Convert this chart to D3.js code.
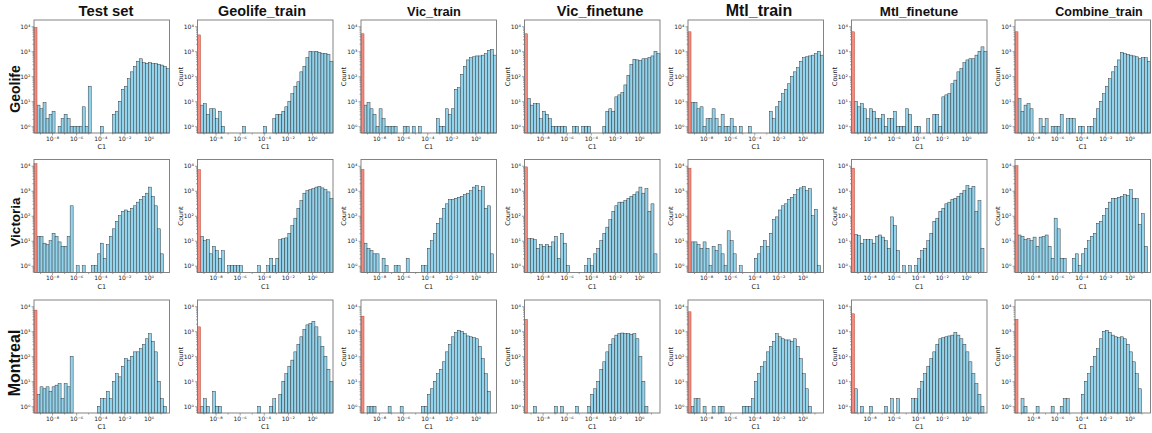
<!DOCTYPE html>
<html>
<head>
<meta charset="utf-8">
<script src="https://cdn.jsdelivr.net/npm/d3@7"></script>
<style>
    body { margin: 0; background: #fff; }
    text { font-family: "DejaVu Sans", sans-serif; fill: #222; }
    .title, .row-label { font-family: "Liberation Sans", Arial, sans-serif; font-weight: bold; fill: #111; }
</style>
</head>
<body>
<svg id="chart"></svg>
<script>
// column titles (models) and row labels (datasets)
const columns = ['Test set', 'Geolife_train', 'Vic_train', 'Vic_finetune', 'Mtl_train', 'Mtl_finetune', 'Combine_train'];
const rows = ['Geolife', 'Victoria', 'Montreal'];

// histogram bins in log10(C1): 45 bins of 0.25 decade, first bin holds the zero values (red)
const binStartLog = -9.5;
const binStepLog = 0.25;
const binCount = 45;
const xTicks = [1e-8, 1e-6, 1e-4, 1e-2, 1e0];
const yTicks = [1e0, 1e1, 1e2, 1e3, 1e4];

// counts in the first (zero) bin, row by row
const zeroCounts = [
    9000, 4500, 5000, 5000, 6000, 6000, 6000,
    12000, 7000, 7000, 9000, 8000, 8000, 10000,
    7000, 1500, 4000, 3000, 6000, 5000, 3000
];

// counts of bins 1..44, one array per panel
const geolifeTest = [7,5,9,2,3,4, 0,1,2,3,2,1,1,1,1,6,1,40, 0,0,0,1,0,0,0, 3,4,10,30,40,80,150,250,400,500,350,330,350,320,320,300,280,250,200];
const geolifeGeolifeTrain = [7,8,3,5,5,2,4,1, 0,0,0,0,0,0, 1, 0,0,0,0,0,0, 1, 0,0, 2,3,3,4,6,10,20,40,60,150,250,550,1000,950,1000,900,800,800,750,400];
const geolifeVicTrain = [7,9,5,3,1,5,2,1,1,1,1, 0,0, 1,1,0,1,0,1, 0,0,0,0,0, 2,1,1,5,3,5,30,35,120,250,450,550,600,650,650,700,800,1100,1200,700];
const geolifeVicFinetune = [13,7,8,8,2,4,3,2, 1,1,1,1,1, 0,0, 1,1, 0, 1,1,1, 0,0,0,0, 1,4,5,4,15,18,22,45,110,300,480,450,420,500,500,550,650,1000,800];
const geolifeMtlTrain = [9,9,5,6,1,2,2,5,2,1,3,1,1,2,1, 0,1,0,0,1, 0,0,0,0,0,0, 4,2,6,10,20,30,50,100,150,220,400,550,600,650,700,800,1000,700];
const geolifeMtlFinetune = [10,6,8,5,2,5,4,2,2,3,1,2,2,4,1,1,1,5,3, 0,1,1, 0,0,2,0, 3,3,1, 15,18,20,50,70,150,200,350,450,500,500,700,1000,1500,1000];
const geolifeCombineTrain = [13,4,7,8,5, 0,0,2,1,2,0,1,1,1,3,0,2,2,2,0,1,1,0,1,1, 2,5,10,20,40,80,150,250,450,900,800,750,700,650,600,500,550,550,400];

const victoriaTest = [15,15,8,7,10,20,15,9,6,6,15, 250, 0,1,0,1, 0,0, 1,1,3,8,2,7,15,30,60,100,150,170,150,200,250,350,450,600,800,1400,600,250,30,3, 0,0];
const victoriaGeolifeTrain = [15,10,11,3,6,4,2,4, 0, 1,1,1,1,1, 0,0,0,0,0, 1, 0,0, 1, 2,1,2,11,12,13,20,40,80,200,400,800,1000,1100,1200,1400,1500,1300,1100,900,500];
const victoriaVicTrain = [8,5,4,3,3,0,2,1,0,0,1,1,0,0,2,0,0,0,0, 1,1,5,10,20,50,80,200,300,450,450,500,550,600,700,800,1000,1400,1600,1000,1500,200,250,3, 0];
const victoriaVicFinetune = [12,12,11,5,7,6,7,6,9,15,2,20,8,1, 0,0,0,0,0, 1,2,1,3,5,10,20,35,70,150,250,350,350,400,500,600,700,900,1400,800,1200,150,300,3, 0];
const victoriaMtlTrain = [9,9,7,5,9,5,1,6,4,7,3,1,25,10,3,0,1, 0,0,0,0, 2,3,6,10,6,20,70,90,170,250,300,450,550,700,1100,1300,1500,1000,1200,100,180,1, 0];
const victoriaMtlFinetune = [18,16,8,11,11,11,8,15,17,14,10,5,90,40,4, 0,1,0,1,0,1, 2,4,5,10,20,60,80,150,200,300,350,450,500,600,800,1000,1600,1200,1500,150,400,5, 0];
const victoriaCombineTrain = [17,15,11,12,10,14,6,14,15,17,6,2,80,30,2,2,0,0, 2,3,1,3,5,10,15,20,50,60,100,200,350,500,500,550,600,700,650,1100,500,500,45,120,6, 0];

const montrealTest = [3,6,5,6,4,6,7,8,2,8,6, 100, 0,0,0,0,0,0,0,0, 1,2,2,4,2,10,20,15,40,80,70,100,150,150,200,300,500,800,400,150,10,2,1, 0];
const montrealGeolifeTrain = [1,2,1,0,4,1,1, 0,0,0,0,0,0,0,0,0,0,0,0, 1, 0,0,0, 1,2,0, 3,10,20,40,70,150,300,600,1200,1800,2000,2500,1500,600,250,100,30,10];
const montrealVicTrain = [0,1,1,1,0,0,0,0,1,0,0,0,1, 0,0,0,0,0,0, 1,1,3,5,10,20,30,60,150,300,600,900,1100,1000,800,650,600,550,500,250,80,20,4, 0,0];
const montrealVicFinetune = [0,0,1,0,0,0,0,0,0,1,0,1,0,0,0,0,1,0,0,0, 1,3,5,10,30,60,150,300,500,700,800,850,800,800,750,800,500,100,10,1, 0,0,0,0];
const montrealMtlTrain = [1,2,2,0,1,0,0,1,0,1,1,0,0,0,0,0,0, 1,1,1,2,10,20,40,60,150,250,400,800,600,500,450,450,400,500,250,80,20,5,1, 0,0,0,0];
const montrealMtlFinetune = [5,0,1,0,0,1,0,0,0,0,1,0,2,0,2,0,0,0,0, 2,2,5,10,20,40,80,150,300,500,550,600,650,700,900,700,500,300,150,60,20,8,3,1, 0];
const montrealCombineTrain = [0,2,1,0,0,0,1,0,0,0,0,1,0,0,1,2,2,0,0,0,0, 3,10,20,40,100,200,500,1000,1100,900,700,600,550,600,500,300,150,60,20,5, 0,0,0];

const panelCounts = [
    [geolifeTest, geolifeGeolifeTrain, geolifeVicTrain, geolifeVicFinetune, geolifeMtlTrain, geolifeMtlFinetune, geolifeCombineTrain],
    [victoriaTest, victoriaGeolifeTrain, victoriaVicTrain, victoriaVicFinetune, victoriaMtlTrain, victoriaMtlFinetune, victoriaCombineTrain],
    [montrealTest, montrealGeolifeTrain, montrealVicTrain, montrealVicFinetune, montrealMtlTrain, montrealMtlFinetune, montrealCombineTrain]
];

// layout
const width = 1152, height = 433;
const panelWidth = 135.5, panelHeight = 113;
const colLeft = d3.range(columns.length).map(i => 34 + i * 163.5);
const rowTop = [20, 159.5, 300];
const titleX = [106, 262, 434, 600, 759, 919, 1099];
const titleSize = [14.8, 14.4, 12.8, 14.6, 16, 13.3, 12.5];
const rowLabelY = [89, 222, 363];
const rowLabelSize = [14, 13.5, 16];

const svg = d3.select('#chart')
    .attr('width', width)
    .attr('height', height);

// scales shared by every panel
const binEdge = i => Math.pow(10, binStartLog + i * binStepLog);
const xScale = d3.scaleLog()
    .domain([binEdge(0), binEdge(binCount)])
    .range([0, panelWidth]);
const yScale = d3.scaleLog()
    .domain([Math.pow(10, -0.27), Math.pow(10, 4.25)])
    .range([panelHeight, 0]);

const supMap = {'-': '\u207B', '0': '\u2070', '1': '\u00B9', '2': '\u00B2', '3': '\u00B3', '4': '\u2074',
    '5': '\u2075', '6': '\u2076', '7': '\u2077', '8': '\u2078', '9': '\u2079'};
const powerFormat = v => '10' + String(Math.round(Math.log10(v))).split('').map(ch => supMap[ch]).join('');

const yMinor = [];
d3.range(-1, 5).forEach(k => d3.range(2, 10).forEach(m => {
    const v = m * Math.pow(10, k);
    if (v > yScale.domain()[0] && v < yScale.domain()[1]) yMinor.push(v);
}));
const xMinor = [1e-9, 1e-7, 1e-5, 1e-3, 1e-1, 1e1];

// titles
svg.selectAll('.title')
    .data(columns)
    .join('text')
    .attr('class', 'title')
    .attr('x', (d, i) => titleX[i])
    .attr('y', 16)
    .attr('text-anchor', 'middle')
    .style('font-size', (d, i) => titleSize[i] + 'px')
    .text(d => d);

svg.selectAll('.row-label')
    .data(rows)
    .join('text')
    .attr('class', 'row-label')
    .attr('transform', (d, i) => `translate(20, ${rowLabelY[i]}) rotate(-90)`)
    .attr('text-anchor', 'middle')
    .style('font-size', (d, i) => rowLabelSize[i] + 'px')
    .text(d => d);

rows.forEach((rowName, r) => {
    columns.forEach((colName, c) => {
        const g = svg.append('g')
            .attr('transform', `translate(${colLeft[c]}, ${rowTop[r]})`);

        const bins = panelCounts[r][c]
            .map((count, j) => ({ x0: binEdge(j + 1), x1: binEdge(j + 2), count }))
            .filter(d => d.count > 0);

        g.selectAll('rect.bin')
            .data(bins)
            .join('rect')
            .attr('class', 'bin')
            .attr('x', d => xScale(d.x0))
            .attr('y', d => yScale(d.count))
            .attr('width', d => xScale(d.x1) - xScale(d.x0))
            .attr('height', d => panelHeight - yScale(d.count))
            .attr('fill', '#93d3ec')
            .attr('stroke', '#2a2a2a')
            .attr('stroke-width', 0.45);

        // zero values bar
        const zero = zeroCounts[r * columns.length + c];
        g.append('rect')
            .attr('x', xScale(binEdge(0)))
            .attr('y', yScale(zero))
            .attr('width', xScale(binEdge(1)) - xScale(binEdge(0)))
            .attr('height', panelHeight - yScale(zero))
            .attr('fill', '#f58b7e')
            .attr('stroke', '#b0392e')
            .attr('stroke-width', 0.45);

        // axes
        const xAxis = d3.axisBottom(xScale).tickValues(xTicks).tickFormat(powerFormat)
            .tickSize(2.5).tickPadding(1.2);
        const xMinorAxis = d3.axisBottom(xScale).tickValues(xMinor).tickFormat('').tickSize(1.5);
        const yAxis = d3.axisLeft(yScale).tickValues(yTicks).tickFormat(powerFormat)
            .tickSize(2.5).tickPadding(1.2);
        const yMinorAxis = d3.axisLeft(yScale).tickValues(yMinor).tickFormat('').tickSize(1.5);

        [
            g.append('g').attr('transform', `translate(0, ${panelHeight})`).call(xAxis),
            g.append('g').attr('transform', `translate(0, ${panelHeight})`).call(xMinorAxis),
            g.append('g').call(yAxis),
            g.append('g').call(yMinorAxis)
        ].forEach(ax => {
            ax.select('.domain').remove();
            ax.selectAll('line').attr('stroke', '#444').attr('stroke-width', 0.5);
            ax.selectAll('text').style('font-size', '6px').attr('fill', '#333');
        });

        // frame
        g.append('rect')
            .attr('width', panelWidth)
            .attr('height', panelHeight)
            .attr('fill', 'none')
            .attr('stroke', '#777')
            .attr('stroke-width', 0.9);

        g.append('text')
            .attr('x', panelWidth / 2)
            .attr('y', panelHeight + 16)
            .attr('text-anchor', 'middle')
            .style('font-size', '6.5px')
            .text('C1');

        if (c > 0) {
            g.append('text')
                .attr('transform', `translate(-15, ${panelHeight / 2}) rotate(-90)`)
                .attr('text-anchor', 'middle')
                .style('font-size', '6.5px')
                .text('Count');
        }
    });
});
</script>
</body>
</html>
